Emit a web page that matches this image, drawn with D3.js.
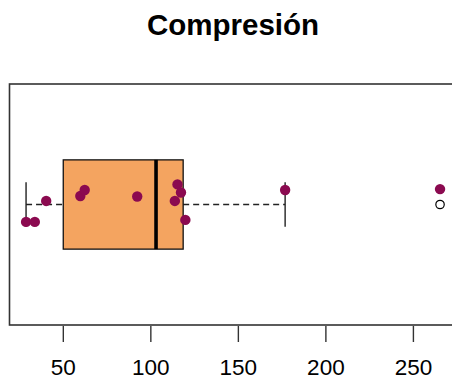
<!DOCTYPE html>
<html>
<head>
<meta charset="utf-8">
<script src="https://cdn.jsdelivr.net/npm/d3@7"></script>
<style>
  html, body { margin: 0; padding: 0; background: #fff; }
  svg { display: block; font-family: "Liberation Sans", Arial, sans-serif; }
</style>
</head>
<body>
<svg id="chart" width="452" height="380"></svg>
<script>
// Compression measurements (one group, horizontal boxplot)
const values = [29, 34, 40.5, 60, 62.5, 92.5, 114, 115.5, 117.5, 120, 177, 265.5];
// Vertical jitter of each strip point, in group-axis units
const jitter = [-0.078, -0.078, 0.016, 0.038, 0.065, 0.036, 0.016, 0.090, 0.054, -0.069, 0.065, 0.069];
const tickValues = [50, 100, 150, 200, 250];
const title = "Compresión";

const svg = d3.select("#chart");

// Plot region
const plotLeft = 9.5, plotRight = 456.6, plotTop = 84, plotBottom = 325;

// Data range padded by 4% on each side
const [mn, mx] = d3.extent(values);
const pad = (mx - mn) * 0.04;
const x = d3.scaleLinear().domain([mn - pad, mx + pad]).range([plotLeft, plotRight]);
const y = d3.scaleLinear().domain([0.46, 1.54]).range([plotBottom, plotTop]);

// Tukey five-number summary
function fivenum(arr) {
  const s = arr.slice().sort((a, b) => a - b);
  const n = s.length;
  const n4 = Math.floor((n + 3) / 2) / 2;
  const idx = [1, n4, (n + 1) / 2, n + 1 - n4, n];
  return idx.map(i => 0.5 * (s[Math.floor(i) - 1] + s[Math.ceil(i) - 1]));
}
const fn = fivenum(values);
const q1 = fn[1], med = fn[2], q3 = fn[3];
const iqr = q3 - q1;
const inside = values.filter(v => v >= q1 - 1.5 * iqr && v <= q3 + 1.5 * iqr);
const wLo = d3.min(inside), wHi = d3.max(inside);
const outliers = values.filter(v => v < q1 - 1.5 * iqr || v > q3 + 1.5 * iqr);

const center = 1, boxHalf = 0.2, stapleHalf = 0.1;

// Whiskers (dashed)
const g = svg.append("g");
g.selectAll("line.whisker")
  .data([[wLo, q1], [q3, wHi]])
  .join("line")
  .attr("class", "whisker")
  .attr("x1", d => x(d[0])).attr("x2", d => x(d[1]))
  .attr("y1", y(center)).attr("y2", y(center))
  .attr("stroke", "#222").attr("stroke-width", 1.3)
  .attr("stroke-dasharray", "6,4");

// Staples
g.selectAll("line.staple")
  .data([wLo, wHi])
  .join("line")
  .attr("class", "staple")
  .attr("x1", d => x(d)).attr("x2", d => x(d))
  .attr("y1", y(center + stapleHalf)).attr("y2", y(center - stapleHalf))
  .attr("stroke", "#222").attr("stroke-width", 1.4);

// Box
g.append("rect")
  .attr("x", x(q1)).attr("width", x(q3) - x(q1))
  .attr("y", y(center + boxHalf)).attr("height", y(center - boxHalf) - y(center + boxHalf))
  .attr("fill", "#F4A460").attr("stroke", "#111").attr("stroke-width", 1.3);

// Median
g.append("line")
  .attr("x1", x(med)).attr("x2", x(med))
  .attr("y1", y(center + boxHalf)).attr("y2", y(center - boxHalf))
  .attr("stroke", "#000").attr("stroke-width", 3.6);

// Outliers (open circles)
g.selectAll("circle.out")
  .data(outliers)
  .join("circle")
  .attr("class", "out")
  .attr("cx", d => x(d)).attr("cy", y(center))
  .attr("r", 4.2)
  .attr("fill", "none").attr("stroke", "#000").attr("stroke-width", 1.2);

// Jittered strip points
g.selectAll("circle.pt")
  .data(values.map((v, i) => ({ v, j: jitter[i] })))
  .join("circle")
  .attr("class", "pt")
  .attr("cx", d => x(d.v)).attr("cy", d => y(center + d.j))
  .attr("r", 5.2)
  .attr("fill", "#8B0A50");

// Plot frame
svg.append("rect")
  .attr("x", plotLeft).attr("y", plotTop)
  .attr("width", plotRight - plotLeft).attr("height", plotBottom - plotTop)
  .attr("fill", "none").attr("stroke", "#333").attr("stroke-width", 1.6);

// Bottom axis
const axis = d3.axisBottom(x).tickValues(tickValues).tickSize(16).tickPadding(17).tickFormat(d3.format("d"));
const ax = svg.append("g").attr("transform", `translate(0,${plotBottom + 1})`).call(axis);
ax.select(".domain").remove();
ax.selectAll(".tick line").attr("stroke", "#333").attr("stroke-width", 1.4);
ax.selectAll(".tick text")
  .attr("font-family", "Liberation Sans, Arial, sans-serif")
  .attr("font-size", 22.5).attr("fill", "#000");

// Title
svg.append("text")
  .attr("x", (plotLeft + plotRight) / 2).attr("y", 35)
  .attr("text-anchor", "middle")
  .attr("font-family", "Liberation Sans, Arial, sans-serif")
  .attr("font-weight", "bold").attr("font-size", 29.5)
  .text(title);
</script>
</body>
</html>
